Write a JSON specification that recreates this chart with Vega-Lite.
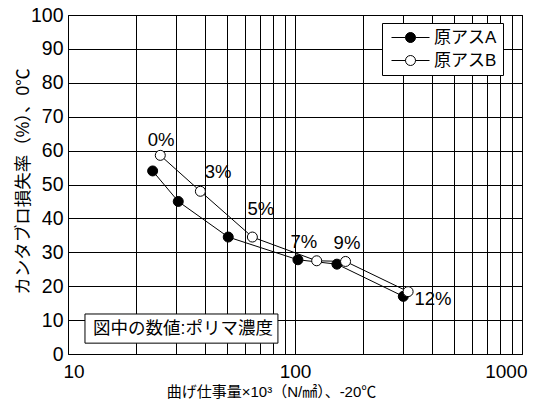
{
  "$schema": "https://vega.github.io/schema/vega-lite/v6.json",
  "width": 454,
  "height": 339,
  "autosize": {"type": "none"},
  "padding": {"left": 68, "top": 15, "right": 16, "bottom": 51},
  "background": "white",
  "config": {
    "font": "Liberation Sans, Noto Sans CJK JP",
    "view": {"stroke": "black", "strokeWidth": 1},
    "axis": {"gridColor": "black", "gridOpacity": 1, "gridWidth": 1, "ticks": false, "domain": false, "labelColor": "black", "titleColor": "black", "labelFont": "Liberation Sans, Noto Sans CJK JP", "titleFont": "Liberation Sans, Noto Sans CJK JP", "titleFontWeight": "normal", "labelOverlap": false}
  },
  "datasets": {
    "pts": [
      {"series": "原アスA", "x": 23.6, "y": 54},
      {"series": "原アスA", "x": 30.6, "y": 45},
      {"series": "原アスA", "x": 50.8, "y": 34.5},
      {"series": "原アスA", "x": 103, "y": 27.8},
      {"series": "原アスA", "x": 153, "y": 26.5},
      {"series": "原アスA", "x": 300, "y": 17},
      {"series": "原アスB", "x": 25.5, "y": 58.6},
      {"series": "原アスB", "x": 38.3, "y": 48},
      {"series": "原アスB", "x": 64.9, "y": 34.5},
      {"series": "原アスB", "x": 124.6, "y": 27.5},
      {"series": "原アスB", "x": 167, "y": 27.3},
      {"series": "原アスB", "x": 315, "y": 18.4}
    ],
    "labels": [
      {"label": "0%", "x": 25.7, "y": 63},
      {"label": "3%", "x": 45.8, "y": 53.6},
      {"label": "5%", "x": 70.8, "y": 42.9},
      {"label": "7%", "x": 109.5, "y": 33.1},
      {"label": "9%", "x": 169.4, "y": 32.8},
      {"label": "12%", "x": 405, "y": 16.3}
    ],
    "note": [
      {"text": "図中の数値:ポリマ濃度", "x1": 11.88, "x2": 84.1, "y1": 3.2, "y2": 11.8, "xc": 32.1, "yc": 7.5}
    ]
  },
  "encoding": {
    "y": {
      "type": "quantitative",
      "scale": {"domain": [0, 100], "nice": false},
      "axis": {
        "grid": true,
        "values": [0, 10, 20, 30, 40, 50, 60, 70, 80, 90, 100],
        "labelFontSize": 19.5,
        "labelPadding": 5,
        "title": "カンタブロ損失率（%）、0℃",
        "titleFontSize": 17.5,
        "titleX": -45,
        "titleY": 166,
        "titleAngle": -90,
        "titleAlign": "center",
        "titleBaseline": "middle"
      }
    }
  },
  "layer": [
    {
      "data": {"name": "pts"},
      "mark": {"type": "line", "color": "black", "strokeWidth": 1},
      "encoding": {
        "x": {
          "field": "x", "type": "quantitative",
          "scale": {"type": "log", "domain": [10, 1000], "nice": false},
          "axis": {
            "grid": true,
            "values": [10, 20, 30, 40, 50, 60, 70, 80, 90, 100, 200, 300, 400, 500, 600, 700, 800, 900, 1000],
            "labelExpr": "datum.value == 10 || datum.value == 100 || datum.value == 1000 ? format(datum.value, 'd') : ''",
            "labelFontSize": 19,
            "labelPadding": 8,
            "labelFlush": true,
            "labelFlushOffset": 5,
            "title": "曲げ仕事量×10³（N/㎟）、-20℃",
            "titleFontSize": 15,
            "titleX": 203,
            "titleY": 37,
            "titleBaseline": "middle",
            "titleAnchor": "middle"
          }
        },
        "y": {"field": "y"},
        "detail": {"field": "series"}
      }
    },
    {
      "data": {"name": "pts"},
      "mark": {"type": "point", "shape": "circle", "filled": true, "stroke": "black", "strokeWidth": 1, "size": 100, "opacity": 1},
      "encoding": {
        "x": {"field": "x", "type": "quantitative"},
        "y": {"field": "y"},
        "fill": {
          "field": "series", "type": "nominal",
          "scale": {"domain": ["原アスA", "原アスB"], "range": ["black", "white"]},
          "legend": {
            "title": null,
            "orient": "none",
            "legendX": 314,
            "legendY": 8,
            "fillColor": "white",
            "strokeColor": "black",
            "padding": 6,
            "symbolType": "M-3.8,0H-1M1,0H3.8M-1,0A1,1 0 1,0 1,0A1,1 0 1,0 -1,0Z",
            "symbolSize": 100,
            "symbolOffset": 14,
            "symbolStrokeColor": "black",
            "symbolStrokeWidth": 1,
            "symbolOpacity": 1,
            "labelFontSize": 17,
            "labelColor": "black",
            "labelOffset": 15,
            "rowPadding": 5
          }
        },
        "order": {"field": "series"}
      }
    },
    {
      "data": {"name": "labels"},
      "mark": {"type": "text", "fontSize": 18.5, "color": "black"},
      "encoding": {
        "x": {"field": "x", "type": "quantitative"},
        "y": {"field": "y"},
        "text": {"field": "label"}
      }
    },
    {
      "data": {"name": "note"},
      "mark": {"type": "rect", "fill": "white", "stroke": "black", "strokeWidth": 1},
      "encoding": {
        "x": {"field": "x1", "type": "quantitative"},
        "x2": {"field": "x2"},
        "y": {"field": "y1"},
        "y2": {"field": "y2"}
      }
    },
    {
      "data": {"name": "note"},
      "mark": {"type": "text", "fontSize": 17.5, "color": "black"},
      "encoding": {
        "x": {"field": "xc", "type": "quantitative"},
        "y": {"field": "yc"},
        "text": {"field": "text"}
      }
    }
  ]
}
